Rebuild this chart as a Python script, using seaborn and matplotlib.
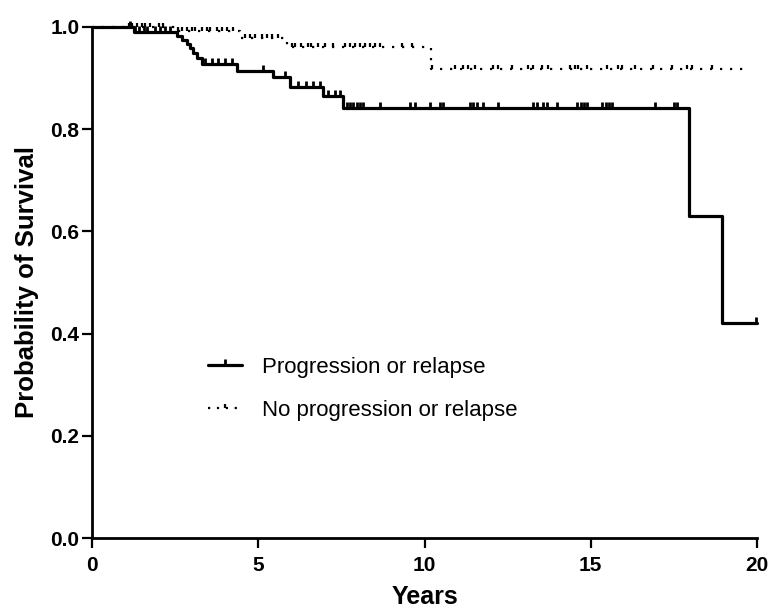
import matplotlib
matplotlib.use("Agg")
import matplotlib.pyplot as plt
from matplotlib.lines import Line2D
import seaborn as sns
import pandas as pd
import numpy as np

# Kaplan-Meier steps
prog_times = [0, 1.25, 2.55, 2.7, 2.85, 2.95, 3.05, 3.15, 3.3, 4.35, 5.45, 5.95,
              6.95, 7.55, 17.95, 18.95, 20.0]
prog_surv = [1.0, 0.99, 0.982, 0.975, 0.967, 0.958, 0.95, 0.94, 0.928, 0.913, 0.902,
             0.883, 0.864, 0.842, 0.631, 0.421, 0.421]
prog_censor = [1.15, 1.3, 1.4, 1.55, 1.65, 1.9, 2.05, 2.2, 2.35,
               3.4, 3.6, 3.8, 4.0, 4.2, 5.15, 5.8, 6.2, 6.45, 6.65, 6.85,
               7.1, 7.3, 7.45, 7.66, 7.76, 7.85, 7.97, 8.06, 8.15, 8.66, 9.56,
               9.71, 10.17, 10.47, 10.56, 11.37, 11.46, 11.58, 11.76, 12.21,
               13.26, 13.38, 13.56, 13.68, 13.98, 14.6, 14.7, 14.8, 14.9, 15.35,
               15.45, 15.55, 15.65, 16.93, 17.5, 17.6, 19.97]

noprog_times = [0, 2.5, 4.45, 5.85, 10.2, 19.8]
noprog_surv = [1.0, 0.992, 0.979, 0.960, 0.918, 0.918]
noprog_censor = [1.1, 1.2, 1.35, 1.5, 1.6, 1.75, 2.0, 2.15,
                 2.6, 2.7, 2.85, 3.0, 3.1, 3.3, 3.45, 3.55, 3.75, 3.9, 4.05, 4.25,
                 4.6, 4.75, 4.9, 5.1, 5.25, 5.4, 5.6,
                 6.0, 6.1, 6.3, 6.5, 6.6, 6.8, 7.0, 7.26, 7.61, 7.76, 7.91, 8.06,
                 8.21, 8.36, 8.51, 8.66, 9.32, 9.62,
                 10.22, 10.92, 11.17, 11.32, 11.52, 12.07, 12.22, 12.62, 13.12,
                 13.27, 13.52, 13.72, 14.37, 14.52, 14.62, 14.88, 15.48, 15.83,
                 15.93, 16.33, 16.88, 17.43, 17.89, 18.04, 18.64]

labels = ["Progression or relapse", "No progression or relapse"]
x_ticks = [0, 5, 10, 15, 20]
y_ticks = [0.0, 0.2, 0.4, 0.6, 0.8, 1.0]


def step_value(times, surv, t):
    # survival level at time t for a post-step curve
    idx = np.searchsorted(times, t, side="right") - 1
    return np.asarray(surv)[idx]


sns.set_theme(style="ticks")
plt.rcParams['font.family'] = ['Liberation Sans', 'DejaVu Sans']
plt.rcParams['text.color'] = 'black'
plt.rcParams['axes.labelcolor'] = 'black'

fig = plt.figure(figsize=(7.7, 6.11), dpi=100)
ax = fig.add_axes([92 / 770, 73 / 611, 665 / 770, 511 / 611])

prog_df = pd.DataFrame({"t": prog_times, "s": prog_surv})
noprog_df = pd.DataFrame({"t": noprog_times, "s": noprog_surv})

dotted = (0, (1, 3.5))
sns.lineplot(data=prog_df, x="t", y="s", drawstyle="steps-post", estimator=None,
             color="black", linewidth=2.3, ax=ax, clip_on=False)
sns.lineplot(data=noprog_df, x="t", y="s", drawstyle="steps-post", estimator=None,
             color="black", linewidth=1.6, linestyle=dotted, ax=ax, clip_on=False)

# censor marks
ax.plot(prog_censor, step_value(prog_times, prog_surv, prog_censor), linestyle="none",
        marker=2, markersize=4.5, markeredgewidth=2.0, color="black", clip_on=False)
ax.plot(noprog_censor, step_value(noprog_times, noprog_surv, noprog_censor),
        linestyle="none", marker=2, markersize=3, markeredgewidth=1.6, color="black",
        clip_on=False)

ax.set_xlim(0, 20)
ax.set_ylim(0, 1)
ax.set_xticks(x_ticks)
ax.set_yticks(y_ticks)
ax.set_yticklabels([f"{v:.1f}" for v in y_ticks])
ax.set_xlabel("Years", fontsize=18, fontweight="bold", labelpad=7)
ax.set_ylabel("Probability of Survival", fontsize=18.5, fontweight="bold", labelpad=8)
ax.tick_params(axis="both", direction="out", length=7, width=1.6, labelsize=15,
               color="black", labelcolor="black")
ax.tick_params(axis="y", pad=2)
ax.tick_params(axis="x", pad=6)
for lab in ax.get_xticklabels() + ax.get_yticklabels():
    lab.set_fontweight("bold")
for side in ["top", "right"]:
    ax.spines[side].set_visible(False)
for side in ["left", "bottom"]:
    ax.spines[side].set_linewidth(2.0)
    ax.spines[side].set_color("black")

handles = [
    Line2D([], [], color="black", linewidth=2.3, marker=2, markersize=4.5,
           markeredgewidth=2.0),
    Line2D([], [], color="black", linewidth=1.6, linestyle=(0, (1, 3)), marker=2,
           markersize=3, markeredgewidth=1.6),
]
ax.legend(handles, labels, loc="upper left", bbox_to_anchor=(0.174, 0.355),
          frameon=False, fontsize=16, handlelength=1.55, handletextpad=0.9,
          labelspacing=1.0, borderpad=0, borderaxespad=0, labelcolor="black")

fig.savefig("out.png", dpi=100)
plt.close(fig)
